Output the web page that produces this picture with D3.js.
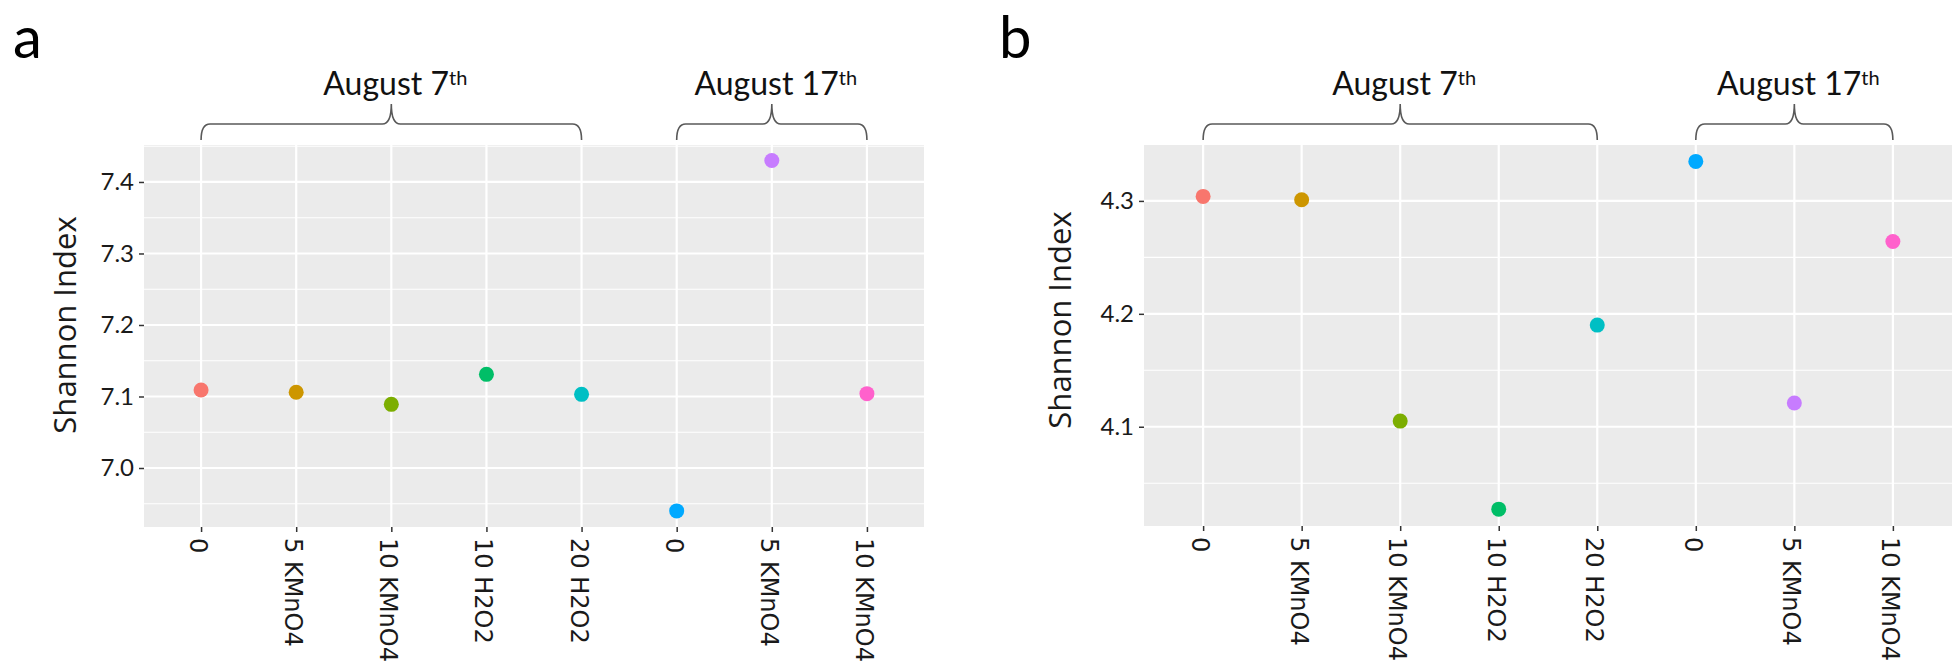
<!DOCTYPE html>
<html lang="en">
<head>
    <meta charset="utf-8">
    <title>Shannon Index</title>
    <script type="text/javascript" src="https://d3js.org/d3.v7.min.js"></script>
</head>
<style>
    body {
        margin: 0;
        background: #FFFFFF;
    }
    svg {
        display: block;
    }
</style>
<body>
<div id="container"></div>

<script type="text/javascript">
    // treatments on the x axis (same for both panels)
    var treatments = ["0", "5 KMnO4", "10 KMnO4", "10 H2O2", "20 H2O2", "0", "5 KMnO4", "10 KMnO4"];
    var pointColors = ["#F8766D", "#CD9600", "#7CAE00", "#00BE67", "#00BFC4", "#00A9FF", "#C77CFF", "#FF61CC"];

    // sampling dates, with the treatments each one covers
    var groupLabels = ["August 7", "August 17"];
    var groupFrom = [0, 5];
    var groupTo = [4, 7];

    // panel a
    var valuesA = [7.109, 7.106, 7.089, 7.131, 7.103, 6.940, 7.430, 7.104];
    var ticksA = [7.0, 7.1, 7.2, 7.3, 7.4];
    var minorA = [6.95, 7.05, 7.15, 7.25, 7.35, 7.45];

    // panel b
    var valuesB = [4.304, 4.301, 4.105, 4.027, 4.190, 4.335, 4.121, 4.264];
    var ticksB = [4.1, 4.2, 4.3];
    var minorB = [4.05, 4.15, 4.25, 4.35];

    var width = 1957;
    var height = 668;

    var svg = d3.select("div#container")
        .append("svg")
        .attr("width", width)
        .attr("height", height)
        .style("background-color", "white");

    function drawPanel(opt) {
        var g = svg.append("g");

        var x = d3.scalePoint()
            .domain(d3.range(treatments.length))
            .range([opt.left, opt.right])
            .padding(0.6);

        var y = d3.scaleLinear()
            .domain(opt.domain)
            .range([opt.bottom, opt.top]);

        // grey panel
        g.append("rect")
            .attr("x", opt.left)
            .attr("y", opt.top)
            .attr("width", opt.right - opt.left)
            .attr("height", opt.bottom - opt.top)
            .attr("fill", "#EBEBEB");

        // minor grid
        g.selectAll(".minor")
            .data(opt.minor.filter(function(d) { return y(d) >= opt.top - 0.5; }))
            .enter().append("line")
            .attr("x1", opt.left)
            .attr("x2", opt.right)
            .attr("y1", function(d) { return y(d); })
            .attr("y2", function(d) { return y(d); })
            .attr("stroke", "white")
            .attr("stroke-width", 1.1);

        // major grid
        g.selectAll(".hmajor")
            .data(opt.ticks)
            .enter().append("line")
            .attr("x1", opt.left)
            .attr("x2", opt.right)
            .attr("y1", function(d) { return y(d); })
            .attr("y2", function(d) { return y(d); })
            .attr("stroke", "white")
            .attr("stroke-width", 2.2);

        g.selectAll(".vmajor")
            .data(x.domain())
            .enter().append("line")
            .attr("x1", function(d) { return x(d); })
            .attr("x2", function(d) { return x(d); })
            .attr("y1", opt.top)
            .attr("y2", opt.bottom)
            .attr("stroke", "white")
            .attr("stroke-width", 2.2);

        // y axis
        var yAxis = d3.axisLeft(y)
            .tickValues(opt.ticks)
            .tickSize(5)
            .tickPadding(5)
            .tickFormat(d3.format(".1f"));

        var ya = g.append("g")
            .attr("transform", "translate(" + opt.left + ",0)")
            .call(yAxis);
        ya.select(".domain").remove();
        ya.selectAll(".tick line").attr("stroke", "#333").attr("stroke-width", 1.5);
        ya.selectAll(".tick text")
            .attr("fill", "#1a1a1a")
            .style("font-family", "Lato, 'Open Sans', sans-serif")
            .style("font-size", "24px");

        // x axis
        var xAxis = d3.axisBottom(x)
            .tickSize(5)
            .tickFormat(function(d) { return treatments[d]; });

        var xa = g.append("g")
            .attr("transform", "translate(0," + opt.bottom + ")")
            .call(xAxis);
        xa.select(".domain").remove();
        xa.selectAll(".tick line").attr("stroke", "#333").attr("stroke-width", 1.5);
        xa.selectAll(".tick text")
            .attr("fill", "#1a1a1a")
            .attr("transform", "rotate(90)")
            .attr("x", 11)
            .attr("y", 0)
            .attr("dy", "0.48em")
            .attr("text-anchor", "start")
            .style("font-family", "'DejaVu Sans', sans-serif")
            .style("font-size", "24px");

        // y axis title
        g.append("text")
            .attr("transform", "translate(" + opt.titleX + "," + opt.titleY + ") rotate(-90)")
            .attr("text-anchor", "middle")
            .attr("fill", "#1a1a1a")
            .style("font-family", "'Open Sans', sans-serif")
            .style("font-size", "31px")
            .text("Shannon Index");

        // points
        g.selectAll(".dot")
            .data(opt.values)
            .enter().append("circle")
            .attr("cx", function(d, i) { return x(i); })
            .attr("cy", function(d) { return y(d); })
            .attr("r", 7.5)
            .attr("fill", function(d, i) { return pointColors[i]; });

        // date braces above the panel
        groupLabels.forEach(function(label, i) {
            var x0 = x(groupFrom[i]);
            var x1 = x(groupTo[i]);
            var xm = (x0 + x1) / 2;
            var yb = 124, ye = 140, yt = 104, r = 9;
            var p = "M" + x0 + "," + ye +
                " Q" + x0 + "," + yb + " " + (x0 + r) + "," + yb +
                " L" + (xm - r) + "," + yb +
                " Q" + xm + "," + yb + " " + xm + "," + yt +
                " Q" + xm + "," + yb + " " + (xm + r) + "," + yb +
                " L" + (x1 - r) + "," + yb +
                " Q" + x1 + "," + yb + " " + x1 + "," + ye;
            g.append("path")
                .attr("d", p)
                .attr("fill", "none")
                .attr("stroke", "#595959")
                .attr("stroke-width", 1.6);

            var t = g.append("text")
                .attr("x", xm + 4)
                .attr("y", 95)
                .attr("text-anchor", "middle")
                .attr("fill", "#111")
                .style("font-family", "Lato, sans-serif")
                .style("font-size", "32px");
            t.append("tspan").text(label);
            t.append("tspan")
                .attr("dy", "-0.5em")
                .style("font-size", "20px")
                .text("th");
        });

        // panel letter
        svg.append("text")
            .attr("x", opt.letterX)
            .attr("y", 58)
            .attr("fill", "#000")
            .style("font-family", "Lato, sans-serif")
            .style("font-size", "58px")
            .text(opt.letter);
    }

    drawPanel({
        letter: "a", letterX: 13,
        left: 144, right: 924, top: 145, bottom: 527,
        domain: [6.9175, 7.4517],
        ticks: ticksA, minor: minorA, values: valuesA,
        titleX: 76, titleY: 325
    });

    drawPanel({
        letter: "b", letterX: 999,
        left: 1144, right: 1952, top: 144, bottom: 526,
        domain: [4.0121, 4.3504],
        ticks: ticksB, minor: minorB, values: valuesB,
        titleX: 1071, titleY: 320
    });
</script>
</body>
</html>
